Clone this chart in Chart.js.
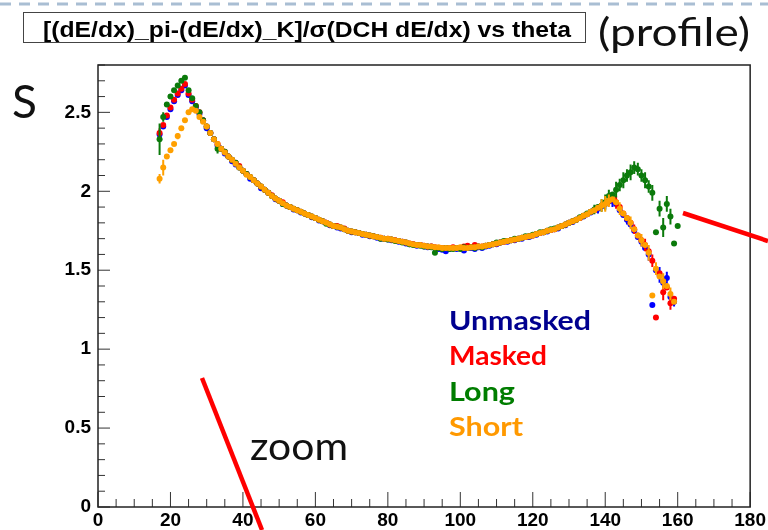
<!DOCTYPE html>
<html>
<head>
<meta charset="utf-8">
<script src="https://cdn.jsdelivr.net/npm/chart.js@4.4.0/dist/chart.umd.min.js"></script>
<style>
    body { margin: 0; background: #fff; }
    #page { position: relative; width: 768px; height: 530px; overflow: hidden; }
    #wrap { position: absolute; left: 0; top: 0; width: 768px; height: 530px; }
    .note { position: absolute; white-space: nowrap; line-height: 1; transform-origin: left top; }
    #title { left: 23px; top: 12px; width: 561px; height: 29px; border: 1px solid #444; }
    #titleText { left: 19px; top: 4px; font: bold 22px 'Liberation Sans', Arial, sans-serif; color: #000; }
    #profile { left: 598px; top: 8px; font: 38px Lato, sans-serif; color: #111; }
    #ylab { left: 12px; top: 73px; font: 46px Lato, sans-serif; color: #111; }
    #zoom { left: 250px; top: 422px; font: 38px Lato, sans-serif; color: #111; }
    .leg { left: 449px; font: bold 26px Lato, sans-serif; }
    svg { position: absolute; left: 0; top: 0; }
</style>
</head>
<body>
<div id="page">
    <div id="wrap"><canvas id="dataChart"></canvas></div>
    <svg width="768" height="530">
        <line x1="0" y1="4" x2="768" y2="4" stroke="#a9bed3" stroke-width="3" stroke-dasharray="11 8"/>
        <line x1="202" y1="378" x2="262" y2="530" stroke="#ff0000" stroke-width="4.5"/>
        <line x1="683" y1="213" x2="768" y2="241" stroke="#ff0000" stroke-width="4.5"/>
    </svg>
    <div class="note" id="title"><span class="note" id="titleText" data-w="528">[(dE/dx)_pi-(dE/dx)_K]/σ(DCH dE/dx) vs theta</span></div>
    <div class="note" id="profile" data-w="152">(profile)</div>
    <div class="note" id="ylab">S</div>
    <div class="note" id="zoom" data-w="98">zoom</div>
    <div class="note leg" style="top:304px;color:#00008f" data-w="142">Unmasked</div>
    <div class="note leg" style="top:339px;color:#ff0000" data-w="98">Masked</div>
    <div class="note leg" style="top:375px;color:#007d00" data-w="66">Long</div>
    <div class="note leg" style="top:410px;color:#ff9900" data-w="74">Short</div>
</div>
<script>
// theta bins (deg)
var thetas = [];
for (var t = 17; t <= 160; t++) thetas.push(t);

var xTickLabels = ['0', '20', '40', '60', '80', '100', '120', '140', '160', '180'];
var yTickLabels = ['0', '0.5', '1', '1.5', '2', '2.5'];

// S values, one per theta bin (17..160)
var unmasked = [
    2.36, 2.41, 2.47, 2.52, 2.57, 2.61, 2.64, 2.67, 2.61, 2.57,
    2.53, 2.49, 2.45, 2.40, 2.37, 2.33, 2.29, 2.27, 2.24, 2.22,
    2.19, 2.17, 2.15, 2.13, 2.11, 2.08, 2.07, 2.05, 2.02, 2.01,
    1.99, 1.97, 1.95, 1.94, 1.92, 1.91, 1.90, 1.885, 1.88, 1.865,
    1.86, 1.85, 1.835, 1.83, 1.815, 1.81, 1.80, 1.785, 1.78, 1.77,
    1.765, 1.76, 1.75, 1.74, 1.74, 1.735, 1.725, 1.725, 1.715, 1.715,
    1.705, 1.70, 1.70, 1.695, 1.69, 1.69, 1.68, 1.68, 1.67, 1.665,
    1.665, 1.655, 1.66, 1.65, 1.645, 1.65, 1.64, 1.635, 1.63, 1.62,
    1.635, 1.64, 1.635, 1.64, 1.625, 1.64, 1.64, 1.635, 1.645, 1.64,
    1.65, 1.655, 1.665, 1.665, 1.675, 1.68, 1.68, 1.69, 1.69, 1.70,
    1.70, 1.71, 1.71, 1.72, 1.725, 1.735, 1.74, 1.745, 1.755, 1.76,
    1.765, 1.78, 1.785, 1.80, 1.805, 1.82, 1.83, 1.84, 1.855, 1.865,
    1.88, 1.89, 1.905, 1.92, 1.935, 1.94, 1.92, 1.88, 1.85, 1.82,
    1.79, 1.75, 1.71, 1.68, 1.64, 1.60, 1.28, 1.50, 1.47, 1.42,
    1.45, 1.33, 1.30, null
];
var masked = [
    2.37, 2.42, 2.48, 2.53, 2.58, 2.62, 2.65, 2.68, 2.62, 2.58,
    2.54, 2.50, 2.45, 2.41, 2.37, 2.33, 2.30, 2.27, 2.25, 2.22,
    2.20, 2.18, 2.16, 2.13, 2.11, 2.09, 2.07, 2.05, 2.03, 2.01,
    1.99, 1.975, 1.955, 1.94, 1.93, 1.91, 1.90, 1.89, 1.88, 1.87,
    1.86, 1.85, 1.84, 1.83, 1.82, 1.81, 1.80, 1.79, 1.78, 1.78,
    1.77, 1.765, 1.75, 1.745, 1.74, 1.735, 1.73, 1.725, 1.72, 1.715,
    1.71, 1.705, 1.70, 1.70, 1.695, 1.69, 1.685, 1.68, 1.675, 1.67,
    1.665, 1.66, 1.66, 1.655, 1.65, 1.65, 1.645, 1.64, 1.64, 1.64,
    1.64, 1.645, 1.64, 1.64, 1.65, 1.655, 1.645, 1.66, 1.65, 1.65,
    1.655, 1.66, 1.665, 1.67, 1.675, 1.68, 1.685, 1.69, 1.695, 1.70,
    1.705, 1.71, 1.715, 1.72, 1.73, 1.735, 1.74, 1.75, 1.755, 1.76,
    1.77, 1.78, 1.79, 1.80, 1.81, 1.82, 1.83, 1.845, 1.855, 1.87,
    1.88, 1.895, 1.91, 1.925, 1.94, 1.95, 1.93, 1.90, 1.86, 1.83,
    1.80, 1.76, 1.72, 1.69, 1.66, 1.62, 1.56, 1.20, 1.48, 1.36,
    1.39, 1.29, 1.32, null
];
var longer = [
    2.33, 2.47, 2.55, 2.60, 2.64, 2.67, 2.70, 2.72, 2.64, 2.59,
    2.54, 2.50, 2.45, 2.41, 2.37, 2.33, 2.27, 2.27, 2.25, 2.22,
    2.20, 2.18, 2.15, 2.13, 2.11, 2.09, 2.07, 2.05, 2.03, 2.01,
    1.99, 1.97, 1.955, 1.94, 1.92, 1.91, 1.90, 1.89, 1.88, 1.87,
    1.86, 1.85, 1.84, 1.83, 1.82, 1.81, 1.795, 1.79, 1.78, 1.775,
    1.77, 1.76, 1.75, 1.745, 1.74, 1.735, 1.73, 1.725, 1.72, 1.715,
    1.71, 1.70, 1.70, 1.695, 1.695, 1.685, 1.685, 1.675, 1.675, 1.665,
    1.66, 1.66, 1.655, 1.65, 1.65, 1.645, 1.61, 1.64, 1.635, 1.64,
    1.635, 1.635, 1.64, 1.635, 1.645, 1.64, 1.645, 1.64, 1.65, 1.645,
    1.655, 1.66, 1.665, 1.675, 1.675, 1.685, 1.685, 1.69, 1.70, 1.70,
    1.705, 1.715, 1.715, 1.725, 1.73, 1.74, 1.74, 1.75, 1.76, 1.765,
    1.77, 1.78, 1.79, 1.80, 1.81, 1.82, 1.835, 1.845, 1.86, 1.87,
    1.885, 1.90, 1.91, 1.93, 1.97, 1.98, 2.01, 2.04, 2.07, 2.10,
    2.12, 2.15, 2.14, 2.10, 2.07, 2.03, 1.99, 1.74, 1.89, 1.77,
    1.92, 1.84, 1.67, 1.78
];
var shorter = [
    2.08, 2.15, 2.22, 2.26, 2.30, 2.35, 2.40, 2.45, 2.50, 2.52,
    2.51, 2.47, 2.44, 2.41, 2.37, 2.33, 2.30, 2.27, 2.245, 2.22,
    2.20, 2.175, 2.15, 2.13, 2.105, 2.09, 2.07, 2.05, 2.03, 2.01,
    1.99, 1.97, 1.955, 1.94, 1.925, 1.91, 1.90, 1.89, 1.88, 1.87,
    1.86, 1.85, 1.84, 1.83, 1.82, 1.81, 1.80, 1.79, 1.78, 1.775,
    1.77, 1.76, 1.75, 1.745, 1.74, 1.735, 1.73, 1.725, 1.72, 1.715,
    1.71, 1.705, 1.70, 1.70, 1.695, 1.69, 1.685, 1.68, 1.675, 1.67,
    1.665, 1.66, 1.66, 1.655, 1.65, 1.65, 1.645, 1.645, 1.64, 1.64,
    1.64, 1.64, 1.64, 1.645, 1.64, 1.64, 1.645, 1.645, 1.65, 1.65,
    1.655, 1.66, 1.665, 1.67, 1.675, 1.68, 1.685, 1.69, 1.695, 1.70,
    1.705, 1.71, 1.715, 1.72, 1.73, 1.735, 1.74, 1.75, 1.755, 1.76,
    1.77, 1.78, 1.79, 1.80, 1.81, 1.82, 1.83, 1.845, 1.855, 1.87,
    1.88, 1.895, 1.91, 1.92, 1.94, 1.95, 1.93, 1.89, 1.86, 1.83,
    1.80, 1.76, 1.72, 1.69, 1.66, 1.61, 1.34, 1.51, 1.46, 1.43,
    1.40, 1.35, 1.30, null
];

// larger error bars, keyed by theta (others are hidden under the marker)
var unmaskedErr = {17: 0.03, 138: 0.03, 140: 0.03, 142: 0.04, 146: 0.03, 150: 0.03, 152: 0.04, 155: 0.05, 157: 0.04, 158: 0.03, 159: 0.03};
var maskedErr = {17: 0.03, 141: 0.03, 143: 0.04, 148: 0.03, 151: 0.04, 153: 0.04, 156: 0.05, 158: 0.04};
var longErr = {17: 0.10, 18: 0.03, 33: 0.03, 137: 0.03, 139: 0.04, 140: 0.05, 141: 0.04, 143: 0.05, 144: 0.04, 145: 0.05,
    146: 0.04, 147: 0.05, 148: 0.04, 149: 0.04, 150: 0.04, 151: 0.05, 152: 0.04, 153: 0.05, 155: 0.05, 156: 0.06, 157: 0.05, 158: 0.05};
var shortErr = {17: 0.03, 18: 0.05, 22: 0.02, 139: 0.04, 140: 0.05, 141: 0.04, 144: 0.04, 147: 0.04, 150: 0.04, 152: 0.05, 154: 0.04, 156: 0.05, 158: 0.04};

function points(vals) {
    var out = [];
    thetas.forEach(function(t, i) {
        if (vals[i] !== null) out.push({x: t, y: vals[i]});
    });
    return out;
}

function series(label, vals, errs, color) {
    return {
        label: label,
        data: points(vals),
        errs: errs,
        backgroundColor: color,
        borderColor: color,
        pointRadius: 3,
        pointHoverRadius: 3,
        pointBorderWidth: 0,
        showLine: false
    };
}

// ROOT style error bars: vertical +-err and horizontal half bin
var errorBars = {
    id: 'errorBars',
    beforeDatasetDraw: function(chart, args) {
        var ds = chart.data.datasets[args.index];
        var xs = chart.scales.x, ys = chart.scales.y, c = chart.ctx;
        c.save();
        c.strokeStyle = ds.borderColor;
        c.lineWidth = 2;
        ds.data.forEach(function(p) {
            var e = ds.errs[p.x] || 0.008;
            var px = xs.getPixelForValue(p.x), py = ys.getPixelForValue(p.y);
            c.beginPath();
            c.moveTo(xs.getPixelForValue(p.x - 0.5), py);
            c.lineTo(xs.getPixelForValue(p.x + 0.5), py);
            c.moveTo(px, ys.getPixelForValue(p.y - e));
            c.lineTo(px, ys.getPixelForValue(p.y + e));
            c.stroke();
        });
        c.restore();
    }
};

// frame and inward tick marks
var rootFrame = {
    id: 'rootFrame',
    afterDraw: function(chart) {
        var a = chart.chartArea, c = chart.ctx;
        c.save();
        c.strokeStyle = '#333';
        c.lineWidth = 1;
        chart.scales.x.ticks.forEach(function(tk) {
            var px = chart.scales.x.getPixelForValue(tk.value);
            var len = (tk.value % 20 === 0) ? 15 : 8;
            c.beginPath();
            c.moveTo(px, a.bottom);
            c.lineTo(px, a.bottom - len);
            c.stroke();
        });
        chart.scales.y.ticks.forEach(function(tk) {
            var py = chart.scales.y.getPixelForValue(tk.value);
            var major = Math.abs(tk.value * 2 - Math.round(tk.value * 2)) < 1e-6;
            c.beginPath();
            c.moveTo(a.left, py);
            c.lineTo(a.left + (major ? 12 : 7), py);
            c.stroke();
        });
        c.lineWidth = 1.5;
        c.strokeStyle = '#222';
        c.strokeRect(a.left, a.top, a.right - a.left, a.bottom - a.top);
        c.restore();
    }
};

function labelFor(list, value) {
    for (var i = 0; i < list.length; i++) {
        if (Math.abs(parseFloat(list[i]) - value) < 1e-6) return list[i];
    }
    return '';
}

var ctx = document.getElementById('dataChart').getContext('2d');

var myChart = new Chart(ctx, {
    type: 'scatter',
    data: {
        datasets: [
            series('Short', shorter, shortErr, '#ffa000'),
            series('Long', longer, longErr, '#0b7a0b'),
            series('Masked', masked, maskedErr, '#ff0000'),
            series('Unmasked', unmasked, unmaskedErr, '#0000ff')
        ]
    },
    options: {
        responsive: true,
        maintainAspectRatio: false,
        animation: false,
        events: [],
        layout: { padding: { left: 0, right: 15, top: 65, bottom: 0 } },
        plugins: {
            legend: { display: false },
            tooltip: { enabled: false }
        },
        scales: {
            x: {
                type: 'linear',
                min: 0,
                max: 180,
                afterFit: function(scale) { scale.height = 23; },
                grid: { display: false, drawTicks: false, tickLength: 0 },
                border: { display: false },
                ticks: {
                    stepSize: 5,
                    autoSkip: false,
                    maxRotation: 0,
                    minRotation: 0,
                    padding: 2,
                    color: '#000',
                    font: { family: 'Liberation Sans', weight: 'bold', size: 19 },
                    callback: function(v) { return labelFor(xTickLabels, v); }
                }
            },
            y: {
                type: 'linear',
                min: 0,
                max: 2.8,
                afterFit: function(scale) { scale.width = 98; },
                grid: { display: false, drawTicks: false, tickLength: 0 },
                border: { display: false },
                ticks: {
                    stepSize: 0.1,
                    autoSkip: false,
                    padding: 7,
                    color: '#000',
                    font: { family: 'Liberation Sans', weight: 'bold', size: 19 },
                    callback: function(v) { return labelFor(yTickLabels, v); }
                }
            }
        }
    },
    plugins: [errorBars, rootFrame]
});

// stretch the annotation texts to the widths seen in the picture
document.querySelectorAll('[data-w]').forEach(function(el) {
    var w = el.getBoundingClientRect().width;
    el.style.transform = 'scaleX(' + (parseFloat(el.getAttribute('data-w')) / w) + ')';
});
</script>
</body>
</html>
